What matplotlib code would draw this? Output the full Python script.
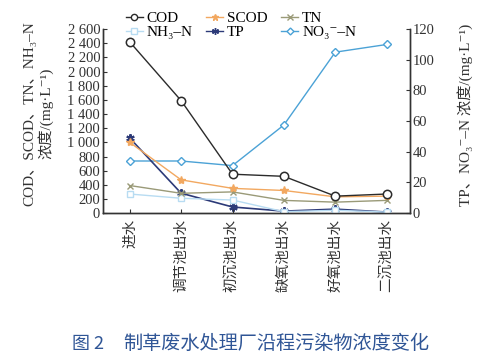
import numpy as np
import matplotlib.pyplot as plt
from matplotlib.lines import Line2D

plt.rcParams['font.family'] = ['Liberation Serif', 'Noto Sans CJK SC', 'DejaVu Serif']
plt.rcParams['axes.unicode_minus'] = False

stages = ['进水', '调节池出水', '初沉池出水', '缺氧池出水', '好氧池出水', '二沉池出水']
cod = [2420, 1590, 550, 520, 240, 270]
scod = [1000, 470, 350, 320, 230, 240]
tn = [390, 280, 300, 180, 155, 180]
nh3n = [270, 210, 185, 20, 40, 15]
tp = [49, 13, 4, 1.3, 2.6, 0.7]
no3n = [34, 34, 31, 57.5, 105, 110]

left_ticks = np.arange(0, 2601, 200)
right_ticks = np.arange(0, 121, 20)

fig = plt.figure(figsize=(4.87, 3.6), dpi=100)
ax = fig.add_axes([0.2115, 0.408, 0.63, 0.511])
ax2 = ax.twinx()

x = np.arange(len(stages))
lw = 1.0
ax.plot(x, cod, color='#2b2b2b', lw=lw, marker='o', ms=6, mfc='white', mec='#2b2b2b', mew=1.1, label='COD', zorder=5)
ax.plot(x, scod, color='#f2a860', lw=lw, marker='*', ms=6, label='SCOD', zorder=4)
ax.plot(x, tn, color='#9a9a78', lw=lw, marker='x', ms=5, label='TN', zorder=3)
ax.plot(x, nh3n, color='#b8dcf2', lw=lw, marker='s', ms=5, mfc='white', mec='#b8dcf2', label='NH₃–N', zorder=2)
ax2.plot(x, tp, color='#2c3a78', lw=lw + 0.2, marker=(6, 2, 0), ms=6, mew=1.5, label='TP', zorder=6)
ax2.plot(x, no3n, color='#4ba2d6', lw=lw, marker='D', ms=4.5, mfc='white', mec='#4ba2d6', label='NO₃⁻–N', zorder=2)

ax.set_xlim(-0.52, 5.45)
ax.set_ylim(0, 2600)
ax2.set_ylim(0, 120)
ax.set_yticks(left_ticks)
ax.set_yticklabels([f'{v:,}'.replace(',', ' ') for v in left_ticks])
ax2.set_yticks(right_ticks)
ax.set_xticks(x)
ax.set_xticklabels(stages, rotation=90, fontfamily=['Noto Sans CJK SC'], fontsize=10.5, color='#444444')

for a in (ax, ax2):
    a.spines['top'].set_visible(False)
    for s in a.spines.values():
        s.set_color('#333333')
        s.set_linewidth(1.0)
    a.tick_params(direction='in', length=3, width=0.8, labelsize=10.5, colors='#333333', pad=2)
ax.tick_params(axis='x', pad=4)
ax.set_zorder(ax2.get_zorder() + 1)
ax.patch.set_visible(False)

handles = [
    Line2D([], [], color='#2b2b2b', lw=lw, marker='o', ms=4.5, mfc='white', label='COD'),
    Line2D([], [], color='#b8dcf2', lw=lw, marker='s', ms=4, mfc='white', label='NH₃–N'),
    Line2D([], [], color='#f2a860', lw=lw, marker='*', ms=5, label='SCOD'),
    Line2D([], [], color='#2c3a78', lw=lw, marker=(6, 2, 0), ms=5, label='TP'),
    Line2D([], [], color='#9a9a78', lw=lw, marker='x', ms=4, label='TN'),
    Line2D([], [], color='#4ba2d6', lw=lw, marker='D', ms=3.5, mfc='white', label='NO₃⁻–N'),
]
fig.legend(handles=handles, ncol=3, loc='upper center', bbox_to_anchor=(0.495, 0.985),
           frameon=False, fontsize=11, handlelength=1.1, handletextpad=0.25,
           columnspacing=0.9, labelspacing=0.0, borderaxespad=0)

fig.text(0.062, 0.685, 'COD、SCOD、TN、NH₃–N', rotation=90, ha='center', va='center', fontsize=11, color='#333333')
fig.text(0.094, 0.685, '浓度/(mg·L⁻¹)', rotation=90, ha='center', va='center', fontsize=11, color='#333333')
fig.text(0.955, 0.68, 'TP、NO₃⁻–N 浓度/(mg·L⁻¹)', rotation=90, ha='center', va='center', fontsize=11, color='#333333')

fig.text(0.148, 0.045, '图 2', fontfamily=['Noto Sans CJK SC'], fontsize=13, color='#2f5596', ha='left', va='center')
fig.text(0.252, 0.045, '制革废水处理厂沿程污染物浓度变化', fontfamily=['Noto Sans CJK SC'], fontsize=13.8,
         color='#2f5596', ha='left', va='center')

fig.savefig('out.png', dpi=100)
